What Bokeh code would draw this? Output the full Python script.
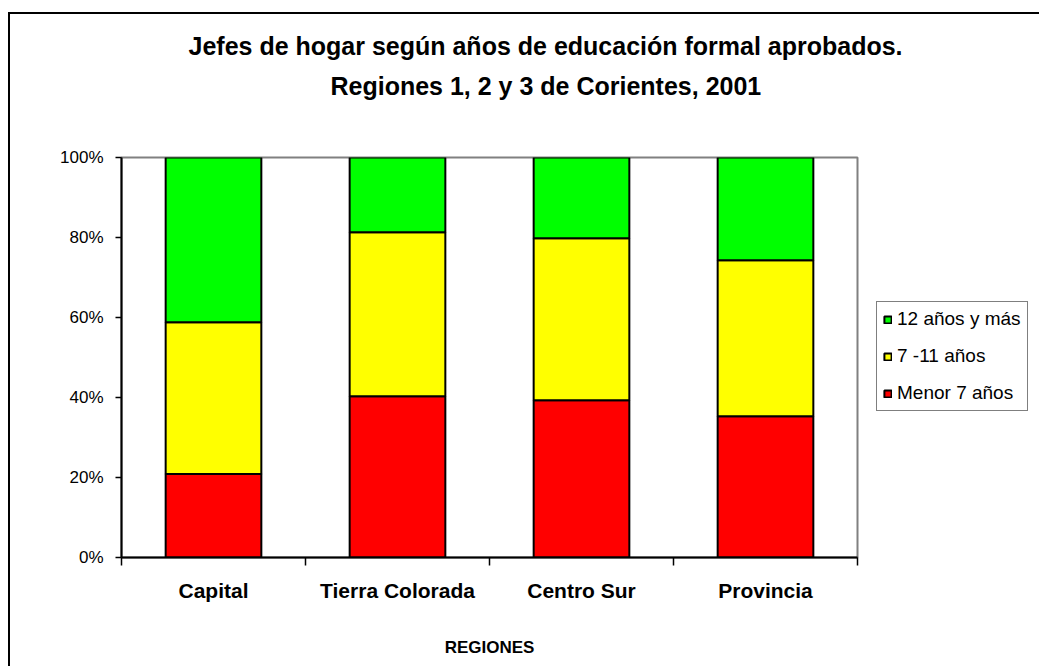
from bokeh.plotting import figure
from bokeh.models import (Range1d, FixedTicker, NumeralTickFormatter, Legend, LegendItem,
                          Title, ColumnDataSource)
from bokeh.embed import file_html
from bokeh.resources import INLINE

# ---- data ----
regions = ["Capital", "Tierra Colorada", "Centro Sur", "Provincia"]
menor_7 = [0.209, 0.403, 0.393, 0.353]
de_7_11 = [0.379, 0.410, 0.405, 0.390]
mas_12 = [0.412, 0.187, 0.202, 0.257]
series_names = ["Menor 7 años", "7 -11 años", "12 años y más"]
series_colors = ["#FF0000", "#FFFF00", "#00FF00"]
y_ticks = [0, 0.2, 0.4, 0.6, 0.8, 1.0]
title_lines = ["Jefes de hogar según años de educación formal aprobados.",
               "Regiones 1, 2 y 3 de Corientes, 2001"]
x_title = "REGIONES"

xpos = [i + 0.5 for i in range(len(regions))]
src = ColumnDataSource(dict(x=xpos, m7=menor_7, m711=de_7_11, m12=mas_12))

FONT = "Liberation Sans"

p = figure(frame_width=736, frame_height=400, output_backend="svg", toolbar_location=None,
           x_range=Range1d(0, len(regions)), y_range=Range1d(0, 1),
           min_border_left=111, min_border_right=180, min_border_top=143, min_border_bottom=109,
           background_fill_color="white", border_fill_color="white")
p.styles = {"border-left": "2px solid black", "border-top": "2px solid black",
            "margin-left": "8px", "margin-top": "12px"}
p.title.visible = False
p.xgrid.visible = False
p.ygrid.visible = False
p.outline_line_color = "#808080"
p.outline_line_width = 2

renderers = p.vbar_stack(["m7", "m711", "m12"], x="x", width=0.52, source=src,
                         fill_color=series_colors, line_color="black", line_width=2)

# y axis
ya = p.yaxis[0]
ya.ticker = FixedTicker(ticks=y_ticks, minor_ticks=[])
ya.formatter = NumeralTickFormatter(format="0%")
ya.axis_line_color = "black"
ya.axis_line_width = 2
ya.major_tick_out = 6
ya.major_tick_in = 0
ya.major_tick_line_width = 1.5
ya.major_label_standoff = 12
ya.major_label_text_font = FONT
ya.major_label_text_font_size = "17px"
ya.major_label_text_color = "black"

# x axis
xa = p.xaxis[0]
xa.ticker = FixedTicker(ticks=xpos, minor_ticks=list(range(len(regions) + 1)))
xa.major_label_overrides = {float(x): r for x, r in zip(xpos, regions)}
xa.axis_line_color = "black"
xa.axis_line_width = 2
xa.major_tick_out = 0
xa.major_tick_in = 0
xa.minor_tick_out = 8
xa.minor_tick_in = 0
xa.minor_tick_line_color = "black"
xa.minor_tick_line_width = 1.5
xa.major_label_standoff = 13
xa.major_label_text_font = FONT
xa.major_label_text_font_style = "bold"
xa.major_label_text_font_size = "21px"
xa.major_label_text_color = "black"
xa.axis_label = x_title
xa.axis_label_text_font = FONT
xa.axis_label_text_font_style = "bold"
xa.axis_label_text_font_size = "17px"
xa.axis_label_text_color = "black"
xa.axis_label_standoff = 33

# titles (added from the frame outward)
p.add_layout(Title(text=" ", text_font_size="36px"), "above")
p.add_layout(Title(text=title_lines[1], align="left", offset=209, text_font=FONT,
                   text_font_style="bold", text_font_size="25px", text_color="black"), "above")
p.add_layout(Title(text=title_lines[0], align="left", offset=67, text_font=FONT,
                   text_font_style="bold", text_font_size="25px", text_color="black"), "above")

# legend in the right panel
items = [LegendItem(label=series_names[i], renderers=[renderers[i]]) for i in (2, 1, 0)]
legend = Legend(items=items, location=(19, 146), orientation="vertical",
                label_text_font=FONT, label_text_font_size="19px", label_text_color="black",
                glyph_width=9, glyph_height=9, label_height=22, spacing=15, padding=6,
                label_standoff=5, border_line_color="black", border_line_width=1,
                background_fill_color="white", background_fill_alpha=1.0, margin=0)
p.add_layout(legend, "right")

open("out.html", "w").write(file_html(p, INLINE))
